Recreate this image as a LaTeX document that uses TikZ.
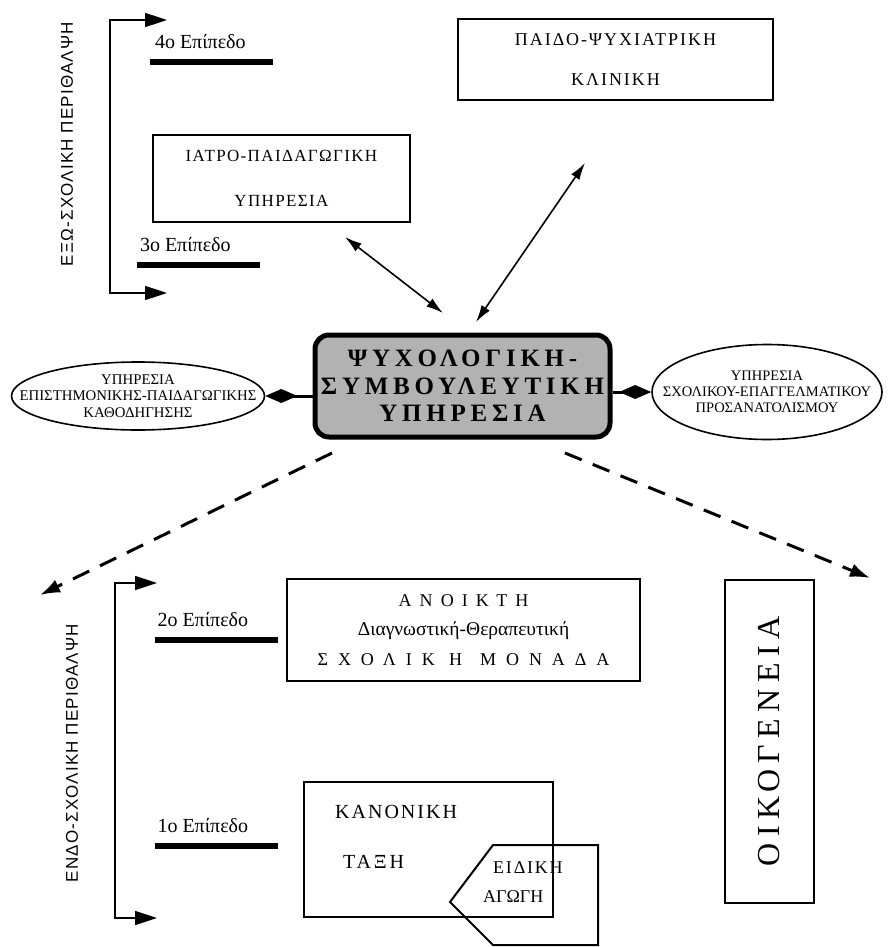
\documentclass[tikz,border=0pt]{standalone}
\usepackage{fontspec}
\setmainfont{Liberation Serif}
\newfontfamily\sidefont{Liberation Sans}
\usetikzlibrary{%
  positioning
 ,arrows.meta
 ,shapes.geometric
 ,calc
}
\tikzstyle{dia}=[x=1pt,y=-1pt,line join=miter]
\tikzstyle{box}=[draw,line width=2pt,align=center]
\tikzstyle{ell}=[ellipse,draw,line width=1.6pt,inner sep=0pt]
\tikzstyle{psy}=[draw,line width=5pt,rounded corners=14pt,fill=black!30,align=center,inner sep=0pt,
  minimum width=295pt,minimum height=102pt,
  font=\bfseries\fontsize{25}{27.5}\selectfont\addfontfeature{LetterSpace=19}]
\tikzstyle{lvl}=[inner sep=0pt,anchor=south west,font=\fontsize{20}{22}\selectfont]
\tikzstyle{bar}=[fill=black,inner sep=0pt,minimum width=123pt,minimum height=6pt]
\tikzstyle{side}=[rotate=90,inner sep=0pt,font=\sidefont\fontsize{17}{20}\selectfont\addfontfeature{LetterSpace=7}]
\tikzstyle{brk}=[line width=1.6pt,{Triangle[length=22pt,width=14pt]}-{Triangle[length=22pt,width=14pt]}]
\tikzstyle{dbl}=[line width=1.6pt,{Latex[length=17pt,width=10pt]}-{Latex[length=17pt,width=10pt]}]
\tikzstyle{dsh}=[line width=3pt,dash pattern=on 18pt off 12pt,-{Latex[length=20pt,width=14pt]}]
\tikzstyle{dlink}=[line width=3pt,-{Diamond[length=32pt,width=14pt]}]

\begin{document}
\begin{tikzpicture}[dia]
  \useasboundingbox (0,0) rectangle (888,947);
% centre
  \node[psy] (psy) at (462.5,386) {ΨΥΧΟΛΟΓΙΚΗ-\\ΣΥΜΒΟΥΛΕΥΤΙΚΗ\\ΥΠΗΡΕΣΙΑ};
  \node[ell,minimum width=253pt,minimum height=68pt,
    label={[align=center,font=\fontsize{14.8}{16.5}\selectfont]center:ΥΠΗΡΕΣΙΑ\\ΕΠΙΣΤΗΜΟΝΙΚΗΣ-ΠΑΙΔΑΓΩΓΙΚΗΣ\\ΚΑΘΟΔΗΓΗΣΗΣ}]
    (epi) at (138,396) {};
  \node[ell,minimum width=230pt,minimum height=95pt,
    label={[align=center,font=\fontsize{14.5}{16}\selectfont]center:ΥΠΗΡΕΣΙΑ\\ΣΧΟΛΙΚΟΥ-ΕΠΑΓΓΕΛΜΑΤΙΚΟΥ\\ΠΡΟΣΑΝΑΤΟΛΙΣΜΟΥ}]
    (voc) at (767,392) {};
  \draw[dlink] (psy.west |- epi.east) -- (epi.east);
  \draw[dlink] (psy.east |- voc.west) -- (voc.west);
% exo-sxoliki
  \node[box,minimum width=257pt,minimum height=87pt,
    font=\fontsize{17}{45}\selectfont\addfontfeature{LetterSpace=8}] (iatro) at (281.5,178.5) {ΙΑΤΡΟ-ΠΑΙΔΑΓΩΓΙΚΗ\\ΥΠΗΡΕΣΙΑ};
  \node[box,minimum width=315pt,minimum height=81pt,
    font=\fontsize{18}{40}\selectfont\addfontfeature{LetterSpace=11}] (klin) at (615.5,59.5) {ΠΑΙΔΟ-ΨΥΧΙΑΤΡΙΚΗ\\ΚΛΙΝΙΚΗ};
  \node[side] (exo) at (67,144) {ΕΞΩ-ΣΧΟΛΙΚΗ ΠΕΡΙΘΑΛΨΗ};
  \coordinate (t4) at (167,20);
  \coordinate (tc1) at (110,20);
  \coordinate (tc2) at (110,293);
  \coordinate (t3) at (167,293);
  \draw[brk] (t4) -- (tc1) -- (tc2) -- (t3);
  \node[bar] (b4) at (211.5,62) {};
  \node[lvl] (l4) at ([xshift=5pt,yshift=10pt]b4.north west) {4ο Επίπεδο};
  \node[bar] (b3) at (198.5,265) {};
  \node[lvl] (l3) at ([xshift=3pt,yshift=10pt]b3.north west) {3ο Επίπεδο};
  \coordinate (a1) at (345,237);
  \coordinate (a2) at (443,313);
  \coordinate (a3) at (585,163);
  \coordinate (a4) at (476,322);
  \draw[dbl] (a1) -- (a2);
  \draw[dbl] (a3) -- (a4);
% endo-sxoliki
  \coordinate (d1) at (332,453);
  \coordinate (d2) at (40,595);
  \coordinate (d3) at (565,453);
  \coordinate (d4) at (870,578);
  \draw[dsh] (d1) -- (d2);
  \draw[dsh] (d3) -- (d4);
  \node[side] (endo) at (72,753) {ΕΝΔΟ-ΣΧΟΛΙΚΗ ΠΕΡΙΘΑΛΨΗ};
  \coordinate (t2) at (157,583);
  \coordinate (bc1) at (115,583);
  \coordinate (bc2) at (115,918);
  \coordinate (t1) at (157,918);
  \draw[brk] (t2) -- (bc1) -- (bc2) -- (t1);
  \node[bar] (b2) at (216,640) {};
  \node[lvl] (l2) at ([xshift=3pt,yshift=10pt]b2.north west) {2ο Επίπεδο};
  \node[bar] (b1) at (216,846) {};
  \node[lvl] (l1) at ([xshift=3pt,yshift=10pt]b1.north west) {1ο Επίπεδο};
  \node[box,minimum width=353pt,minimum height=102pt,font=\fontsize{18}{29.5}\selectfont] (anoi) at (463.5,630)
    {{\addfontfeature{LetterSpace=45}ΑΝΟΙΚΤΗ}\\{\fontsize{19.5}{29.5}\selectfont Διαγνωστική-Θεραπευτική}\\{\addfontfeature{LetterSpace=55}ΣΧΟΛΙΚ Η\quad ΜΟΝΑΔΑ}};
  \draw[line width=2pt] (493,845) -- (598,845) -- (598,945) -- (493,945) -- (450,902) -- cycle;
  \node[box,minimum width=249pt,minimum height=135pt] (kan) at (428.5,849.5) {};
  \node[inner sep=0pt,anchor=west,font=\fontsize{20}{22}\selectfont\addfontfeature{LetterSpace=10}] (kant) at (335,812) {ΚΑΝΟΝΙΚΗ};
  \node[inner sep=0pt,anchor=west,font=\fontsize{20}{22}\selectfont\addfontfeature{LetterSpace=14}] (taxi) at (343,862) {ΤΑΞΗ};
  \node[inner sep=0pt,anchor=west,font=\fontsize{18}{20}\selectfont\addfontfeature{LetterSpace=10}] (eid) at (493,868) {ΕΙΔΙΚΗ};
  \node[inner sep=0pt,anchor=west,font=\fontsize{18}{20}\selectfont] (agog) at (483,897) {ΑΓΩΓΗ};
  \node[box,rotate=90,minimum width=323pt,minimum height=89pt,
    font=\fontsize{32}{36}\selectfont\addfontfeature{LetterSpace=20}] (oik) at (769.5,741.5) {ΟΙΚΟΓΕΝΕΙΑ};
\end{tikzpicture}
\end{document}
